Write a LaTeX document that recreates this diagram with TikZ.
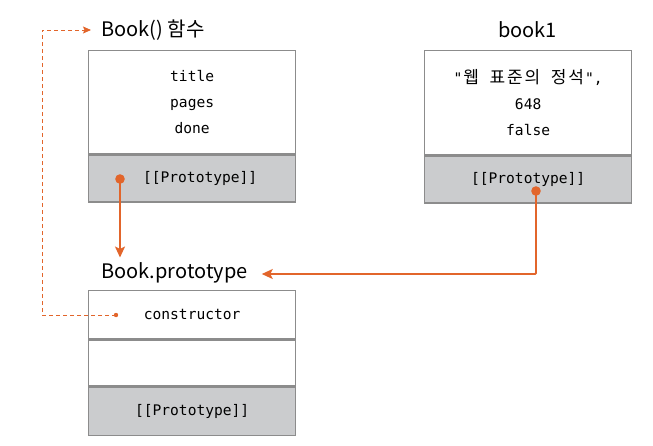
\documentclass[tikz,border=0pt]{standalone}
\usepackage{fontspec}
\setmainfont{Noto Sans CJK KR}
\newfontfamily\codefont{DejaVu Sans Mono}
\newfontfamily\krcode{Noto Sans CJK KR}
\newcommand{\hgcell}[1]{\makebox[17.5pt]{\krcode\fontsize{17}{26}\selectfont #1}}
\usetikzlibrary{positioning,arrows.meta,calc}
\definecolor{ptrorange}{HTML}{E2652B}
\definecolor{slotgray}{HTML}{CBCCCE}
\definecolor{edgegray}{HTML}{8C8C8C}

\begin{document}
\begin{tikzpicture}[x=1pt,y=1pt,
  cell/.style={rectangle,draw=edgegray,line width=1.3pt,minimum width=207pt,inner sep=0pt,anchor=north west,align=center,font=\codefont\fontsize{14.6}{26}\selectfont},
  slot/.style={cell,fill=slotgray,minimum height=47pt},
  caption/.style={inner sep=0pt,font=\fontsize{20}{22}\selectfont},
  ptr/.style={ptrorange,line width=1.8pt,-{Stealth[length=11pt,width=10pt,inset=2.5pt]}},
  backptr/.style={ptrorange,line width=0.9pt,dash pattern=on 4pt off 3pt,-{Stealth[length=8pt,width=7pt,inset=1.5pt]}}]
\useasboundingbox (0,0) rectangle (653,-445);

% Book() function object
\node[cell,minimum height=103pt] (fnbody) at (88,-50) {title\\pages\\done};
\node[slot] (fnslot) at (fnbody.south west) {\hspace*{16pt}[[Prototype]]};
\node[caption,anchor=west] (fnlabel) at (101,-30) {Book() 함수};

% book1 instance
\node[cell,minimum height=104pt] (b1body) at (424,-50) {"\hgcell{웹}\hspace{8.8pt}\hgcell{표}\hgcell{준}\hgcell{의}\hspace{8.8pt}\hgcell{정}\hgcell{석}",\\648\\false};
\node[slot] (b1slot) at (b1body.south west) {[[Prototype]]};
\node[caption] (b1label) at (527.5,-30) {book1};

% Book.prototype object
\node[cell,minimum height=48pt] (ctor) at (88,-290) {constructor};
\node[cell,minimum height=46pt] (empty) at (ctor.south west) {};
\node[slot,minimum height=48pt] (protoslot) at (empty.south west) {[[Prototype]]};
\node[caption,anchor=west] (protolabel) at (101,-273) {Book.prototype};

% pointers
\coordinate (fnptr) at (120,-179);
\coordinate (b1ptr) at (536,-191);
\coordinate (ctorptr) at (116,-315);
\coordinate (backturn) at (42,-315);

\fill[ptrorange] (fnptr) circle (4.8pt);
\fill[ptrorange] (b1ptr) circle (4.8pt);
\fill[ptrorange] (ctorptr) circle (2.2pt);

\draw[ptr] (fnptr) -- ($(fnptr |- protolabel.north)+(0,5)$);
\draw[ptr,rounded corners=1pt] (b1ptr) |- ($(protolabel.east)+(14,-1)$);
\draw[backptr] (ctorptr) -- (backturn) |- ($(fnlabel.west)+(-10,0)$);
\end{tikzpicture}
\end{document}
